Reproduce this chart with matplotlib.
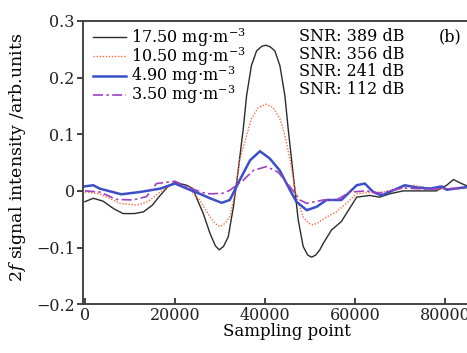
import numpy as np
import matplotlib
matplotlib.use('Agg')
import matplotlib.pyplot as plt

plt.rcParams['font.family'] = 'DejaVu Serif'
plt.rcParams['mathtext.fontset'] = 'dejavuserif'

# 17.50 mg/m3 curve
x_a = [0, 1850, 4000, 6500, 8500, 11000, 13000, 15000, 16500, 18500, 20000, 22600,
       24000, 24800, 26300, 27800, 29000, 29850, 30800, 31850, 33000, 33700, 35180,
       35930, 37000, 38150, 39300, 40220, 41200, 42200, 43330, 44440, 45180, 46670,
       47400, 48500, 49500, 50370, 51300, 52200, 53000, 54800, 57000, 58500, 60400,
       63300, 65500, 67800, 70700, 78100, 80400, 81900, 83700, 86000]
y_a = [-0.019, -0.013, -0.018, -0.032, -0.040, -0.040, -0.037, -0.025, -0.010,
       0.008, 0.015, 0.010, 0.004, -0.012, -0.040, -0.075, -0.097, -0.104, -0.098,
       -0.081, -0.028, 0.013, 0.109, 0.168, 0.221, 0.247, 0.255, 0.257, 0.254, 0.247,
       0.221, 0.168, 0.109, 0.001, -0.051, -0.098, -0.113, -0.117, -0.113, -0.104,
       -0.092, -0.069, -0.054, -0.035, -0.011, -0.008, -0.011, -0.005, 0.0, 0.0,
       0.010, 0.020, 0.013, 0.005]

# 10.50 mg/m3 curve
x_b = [0, 3300, 7800, 11500, 14000, 16700, 20000, 23300, 25500, 27800, 29000, 30000,
       31000, 32200, 33300, 34400, 35930, 37000, 38500, 40220, 41850, 43330, 44440,
       45600, 47000, 48500, 49700, 50700, 51800, 53700, 55900, 58100, 60400, 63300,
       66300, 73000, 78100, 86000]
y_b = [-0.002, -0.005, -0.022, -0.025, -0.019, -0.002, 0.015, 0.002, -0.016, -0.046,
       -0.058, -0.063, -0.058, -0.046, -0.005, 0.054, 0.098, 0.127, 0.147, 0.153,
       0.147, 0.127, 0.098, 0.054, -0.010, -0.046, -0.057, -0.060, -0.056, -0.046,
       -0.037, -0.022, -0.005, -0.003, -0.002, 0.010, 0.003, 0.006]

# 4.90 mg/m3 curve
x_c = [0, 1850, 3300, 8100, 12200, 16700, 20000, 23300, 25500, 27800, 30400, 32200,
       34400, 36700, 38900, 41100, 43300, 45600, 47000, 49300, 51500, 53700, 55200,
       57000, 60400, 62200, 64100, 65900, 68500, 71100, 73700, 76700, 79300, 80400,
       86000]
y_c = [0.008, 0.010, 0.004, -0.006, -0.002, 0.004, 0.013, 0.002, -0.005, -0.013,
       -0.021, -0.016, 0.019, 0.054, 0.070, 0.057, 0.036, 0.001, -0.019, -0.034,
       -0.028, -0.016, -0.016, -0.016, 0.010, 0.013, -0.002, -0.008, 0.001, 0.010,
       0.006, 0.004, 0.008, 0.002, 0.008]

# 3.50 mg/m3 curve
x_d = [0, 3300, 7000, 10700, 13700, 15900, 20000, 23300, 27000, 28500, 30700, 32200,
       35200, 37400, 40370, 42960, 45600, 47800, 49300, 52960, 55900, 58900, 62600,
       65500, 70700, 76300, 86000]
y_d = [0.0, -0.002, -0.015, -0.016, -0.010, 0.013, 0.017, 0.005, -0.005, -0.005,
       -0.004, 0.001, 0.019, 0.036, 0.043, 0.033, 0.007, -0.016, -0.022, -0.016,
       -0.016, -0.002, 0.0, -0.004, 0.005, 0.003, 0.005]

labels = ['17.50 mg$\\cdot$m$^{-3}$', '10.50 mg$\\cdot$m$^{-3}$',
          '4.90 mg$\\cdot$m$^{-3}$', '3.50 mg$\\cdot$m$^{-3}$']
snr = ['SNR: 389 dB', 'SNR: 356 dB', 'SNR: 241 dB', 'SNR: 112 dB']
xticks = [0, 20000, 40000, 60000, 80000]
yticks = [-0.2, -0.1, 0, 0.1, 0.2, 0.3]
ytick_labels = ['\u22120.2', '\u22120.1', '0', '0.1', '0.2', '0.3']

fig = plt.figure(figsize=(4.67, 3.53), dpi=100)
ax = fig.add_axes([0.178, 0.138, 0.871, 0.803])

ax.plot(x_a, y_a, color='#2b2b2b', lw=1.0, label=labels[0])
ax.plot(x_b, y_b, color='#ff6b3d', lw=1.0, ls=(0, (1, 1.2)), label=labels[1])
ax.plot(x_c, y_c, color='#3a4fc8', lw=1.8, label=labels[2])
ax.plot(x_d, y_d, color='#a040c0', lw=1.2, ls=(0, (6, 2, 1.5, 2)), label=labels[3])

ax.set_xlim(-400, 90000)
ax.set_ylim(-0.2, 0.3)
ax.set_xticks(xticks)
ax.set_xticklabels([str(v) for v in xticks])
ax.set_yticks(yticks)
ax.set_yticklabels(ytick_labels)
ax.tick_params(axis='x', direction='in', length=4, width=1.2, labelsize=11.5, pad=2, colors='#222222')
ax.tick_params(axis='y', direction='out', length=4, width=1.2, labelsize=11.5, pad=2, colors='#222222')
for s in ax.spines.values():
    s.set_linewidth(1.4)
    s.set_color('#444444')

ax.set_xlabel('Sampling point', fontsize=12, labelpad=-1)
ax.set_ylabel('2$f$ signal intensity /arb.units', fontsize=12.5)
ax.yaxis.set_label_coords(-0.135, 0.52)

ax.legend(loc='upper left', frameon=False, fontsize=11.5, handlelength=2.1,
          handletextpad=0.3, labelspacing=-0.22, borderaxespad=0.2,
          bbox_to_anchor=(0.0, 1.015))

ax.text(0.53, 0.975, '\n'.join(snr), transform=ax.transAxes, fontsize=11.5,
        va='top', ha='left', linespacing=1.05)
ax.text(0.875, 0.975, '(b)', transform=ax.transAxes, fontsize=11.5, va='top', ha='left')

fig.savefig('out.png', dpi=100)
